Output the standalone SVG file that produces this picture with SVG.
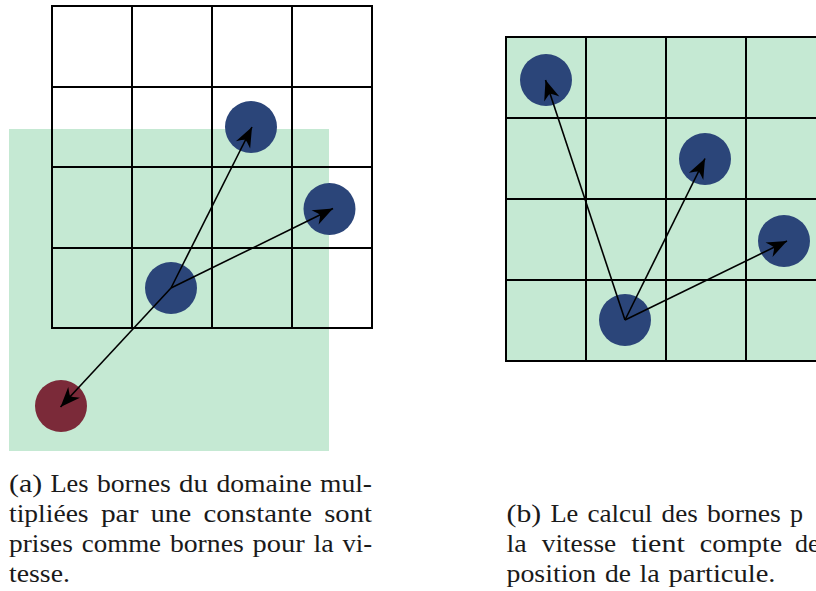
<svg xmlns="http://www.w3.org/2000/svg" width="816" height="591" viewBox="0 0 816 591">
  <style>
    .grid { fill: none; stroke: #000; stroke-width: 2; stroke-linecap: square; }
    .zone { fill: #c5e9d3; }
    .p { fill: #2b4579; }
    .q { fill: #7b2a39; }
    .v { fill: none; stroke: #000; stroke-width: 1.6; marker-end: url(#head); }
    .cap text { font-family: 'Liberation Serif', 'Times New Roman', 'DejaVu Serif', serif; font-size: 26px; fill: #1a1a1a; }
  </style>
  <defs>
    <marker id="head" markerUnits="userSpaceOnUse" markerWidth="28" markerHeight="28" viewBox="-24 -12 28 24" refX="0" refY="0" orient="auto">
      <path d="M0,0 L-20,-8 Q-14.5,-1 -14.5,0 Q-14.5,1 -20,8 Z" fill="#000"/>
    </marker>
  </defs>

  <!-- left panel: search domain scaled by a constant -->
  <rect id="domain-a" class="zone" x="9" y="129" width="320" height="322"/>
  <g id="grid-a" class="grid">
    <rect x="52" y="6" width="320" height="322"/>
    <path d="M132,6 V328 M212,6 V328 M292,6 V328 M52,87 H372 M52,167 H372 M52,248 H372"/>
  </g>
  <g id="a-origin"><circle class="p" cx="171" cy="288" r="26"/></g>
  <g id="a-target1"><circle class="p" cx="251" cy="127" r="26"/></g>
  <g id="a-target2"><circle class="p" cx="329.5" cy="209" r="26"/></g>
  <g id="a-outside"><circle class="q" cx="61" cy="406" r="26"/></g>

  <!-- right panel: bounds depend on the particle position -->
  <g id="grid-b">
    <rect class="zone" x="506" y="37" width="320" height="324"/>
    <g class="grid">
      <rect x="506" y="37" width="320" height="324"/>
      <path d="M586,37 V361 M666,37 V361 M746,37 V361 M506,118 H826 M506,199 H826 M506,280 H826"/>
    </g>
  </g>
  <g id="b-origin"><circle class="p" cx="625" cy="320" r="26"/></g>
  <g id="b-target1"><circle class="p" cx="546" cy="80" r="26"/></g>
  <g id="b-target2"><circle class="p" cx="705" cy="159" r="26"/></g>
  <g id="b-target3"><circle class="p" cx="784" cy="241" r="26"/></g>

  <g id="connectors">
    <line class="v" x1="171" y1="288" x2="252" y2="127"/>
    <line class="v" x1="171" y1="288" x2="333" y2="208.5"/>
    <line class="v" x1="171" y1="288" x2="60.5" y2="407"/>
    <line class="v" x1="625" y1="320" x2="545.5" y2="80"/>
    <line class="v" x1="625" y1="320" x2="705" y2="158.5"/>
    <line class="v" x1="625" y1="320" x2="787" y2="241"/>
  </g>

  <!-- caption (a), justified -->
  <g id="caption-a" class="cap">
    <text x="9" y="491.5" textLength="33.2" lengthAdjust="spacingAndGlyphs">(a)</text>
    <text x="50.5" y="491.5" textLength="38" lengthAdjust="spacingAndGlyphs">Les</text>
    <text x="96.9" y="491.5" textLength="73.9" lengthAdjust="spacingAndGlyphs">bornes</text>
    <text x="179.1" y="491.5" textLength="28.9" lengthAdjust="spacingAndGlyphs">du</text>
    <text x="216.4" y="491.5" textLength="95.3" lengthAdjust="spacingAndGlyphs">domaine</text>
    <text x="320" y="491.5" textLength="52" lengthAdjust="spacingAndGlyphs">mul-</text>

    <text x="9" y="521.5" textLength="79.6" lengthAdjust="spacingAndGlyphs">tipliées</text>
    <text x="100.9" y="521.5" textLength="37.6" lengthAdjust="spacingAndGlyphs">par</text>
    <text x="150.7" y="521.5" textLength="40.5" lengthAdjust="spacingAndGlyphs">une</text>
    <text x="203.5" y="521.5" textLength="108.5" lengthAdjust="spacingAndGlyphs">constante</text>
    <text x="324.2" y="521.5" textLength="47.8" lengthAdjust="spacingAndGlyphs">sont</text>

    <text x="9" y="551.5" textLength="63.9" lengthAdjust="spacingAndGlyphs">prises</text>
    <text x="81.7" y="551.5" textLength="79.4" lengthAdjust="spacingAndGlyphs">comme</text>
    <text x="169.9" y="551.5" textLength="73.9" lengthAdjust="spacingAndGlyphs">bornes</text>
    <text x="252.6" y="551.5" textLength="52.1" lengthAdjust="spacingAndGlyphs">pour</text>
    <text x="313.5" y="551.5" textLength="20.2" lengthAdjust="spacingAndGlyphs">la</text>
    <text x="342.5" y="551.5" textLength="29.6" lengthAdjust="spacingAndGlyphs">vi-</text>

    <text x="9" y="581.5" textLength="60.9" lengthAdjust="spacingAndGlyphs">tesse.</text>
  </g>

  <!-- caption (b), justified, runs up to the right edge -->
  <g id="caption-b" class="cap">
    <text x="506.5" y="521.5" textLength="34.7" lengthAdjust="spacingAndGlyphs">(b)</text>
    <text x="550.4" y="521.5" textLength="27.8" lengthAdjust="spacingAndGlyphs">Le</text>
    <text x="587.4" y="521.5" textLength="65" lengthAdjust="spacingAndGlyphs">calcul</text>
    <text x="661.6" y="521.5" textLength="36.2" lengthAdjust="spacingAndGlyphs">des</text>
    <text x="707" y="521.5" textLength="73.9" lengthAdjust="spacingAndGlyphs">bornes</text>
    <text x="790.1" y="521.5">p</text>

    <text x="506.5" y="551.5" textLength="20.2" lengthAdjust="spacingAndGlyphs">la</text>
    <text x="541.7" y="551.5" textLength="74.6" lengthAdjust="spacingAndGlyphs">vitesse</text>
    <text x="631.3" y="551.5" textLength="53.5" lengthAdjust="spacingAndGlyphs">tient</text>
    <text x="699.8" y="551.5" textLength="82.3" lengthAdjust="spacingAndGlyphs">compte</text>
    <text x="795" y="551.5">de</text>

    <text x="506.5" y="581.5" textLength="89.7" lengthAdjust="spacingAndGlyphs">position</text>
    <text x="604.9" y="581.5" textLength="26" lengthAdjust="spacingAndGlyphs">de</text>
    <text x="639.6" y="581.5" textLength="20.2" lengthAdjust="spacingAndGlyphs">la</text>
    <text x="668.5" y="581.5" textLength="107" lengthAdjust="spacingAndGlyphs">particule.</text>
  </g>
</svg>
